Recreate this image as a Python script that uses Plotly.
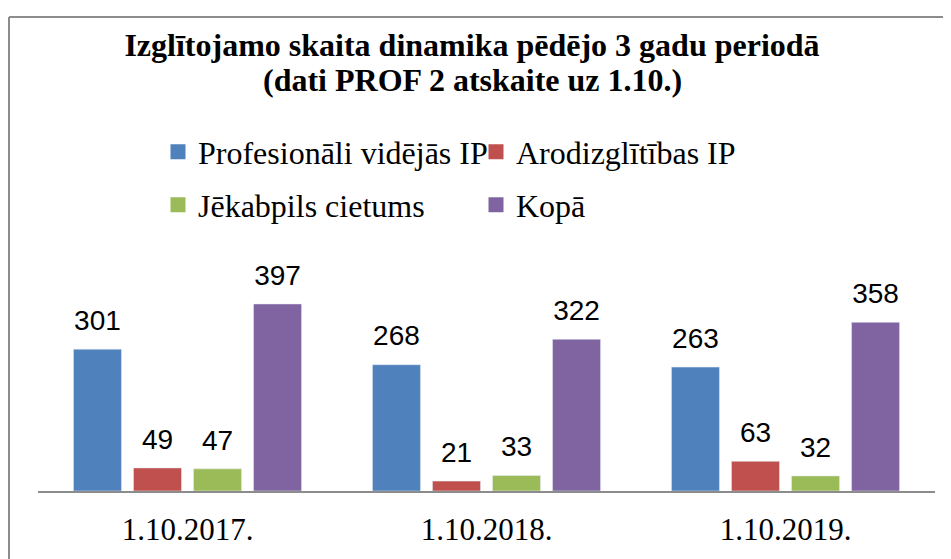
import plotly.graph_objects as go

categories = ["1.10.2017.", "1.10.2018.", "1.10.2019."]
series_names = ["Profesionāli vidējās IP", "Arodizglītības IP", "Jēkabpils cietums", "Kopā"]
prof_videjas = [301, 268, 263]
arodizglitibas = [49, 21, 63]
jekabpils = [47, 33, 32]
kopa = [397, 322, 358]
colors = ["#4F81BD", "#C0504D", "#9BBB59", "#8064A2"]
title_line1 = "Izglītojamo skaita dinamika pēdējo 3 gadu periodā"
title_line2 = "(dati PROF 2 atskaite uz 1.10.)"

# page has an 8px body margin; figure coordinates = page coordinates - 8
W, H = 943, 551
ml, mr, mt, mb = 30, 16, 271, 66
ymax = 450

fig = go.Figure()
values = [prof_videjas, arodizglitibas, jekabpils, kopa]
legends = ["legend", "legend", "legend2", "legend2"]
for name, vals, col in zip(series_names, values, colors):
    fig.add_trace(go.Bar(
        x=categories, y=vals, name=name,
        marker=dict(color=col),
        showlegend=False, offsetgroup=name,
    ))
for name, vals in zip(series_names, values):
    fig.add_trace(go.Scatter(
        x=categories, y=vals, mode="markers+text",
        marker=dict(size=18, opacity=0),
        text=[str(v) for v in vals], textposition="top center",
        textfont=dict(family="Liberation Sans", size=28, color="black"),
        cliponaxis=False, showlegend=False, hoverinfo="skip",
        offsetgroup=name,
    ))
# legend entries (square swatches)
for name, col, lg in zip(series_names, colors, legends):
    fig.add_trace(go.Scatter(
        x=[categories[0]], y=[None], mode="markers", name=name,
        marker=dict(symbol="square", size=15, color=col),
        legend=lg, offsetgroup=name, hoverinfo="skip",
    ))

pw = W - ml - mr
ph = H - mt - mb
def px_x(x):
    return (x - ml) / pw
def px_y(y):
    return (H - mb - y) / ph

border = dict(color="#8c8c8c", width=2)
fig.add_shape(type="line", xref="paper", yref="paper",
              x0=px_x(1), x1=px_x(1), y0=px_y(6.5), y1=px_y(575), line=border)
fig.add_shape(type="line", xref="paper", yref="paper",
              x0=px_x(1), x1=px_x(970), y0=px_y(6.5), y1=px_y(6.5), line=border)

fig.add_annotation(text=title_line2, xref="paper", yref="paper",
                   x=px_x(472 - 8), y=px_y(78 - 8), xanchor="center", yanchor="middle",
                   showarrow=False,
                   font=dict(family="Liberation Serif", size=32, color="black", weight="bold"))

legend_common = dict(
    orientation="h", xref="container", yref="container",
    xanchor="left", yanchor="middle",
    font=dict(family="Liberation Serif", size=32, color="black"),
    entrywidth=273, entrywidthmode="pixels",
    bgcolor="rgba(0,0,0,0)", traceorder="normal",
)

fig.update_layout(
    width=W, height=H,
    margin=dict(l=ml, r=mr, t=mt, b=mb),
    paper_bgcolor="white", plot_bgcolor="white",
    barmode="group", bargap=0.197, bargroupgap=0.2,
    scattermode="group", scattergap=0.197,
    title=dict(text=title_line1, x=(472 - 8) / W, xref="container", xanchor="center",
               y=(H - (45 - 8)) / H, yref="container", yanchor="middle",
               font=dict(family="Liberation Serif", size=32, color="black", weight="bold")),
    legend=dict(x=150 / W, y=(H - (152 - 8)) / H, **legend_common),
    legend2=dict(x=150 / W, y=(H - (205 - 8)) / H, **legend_common),
    xaxis=dict(showline=True, linecolor="#8c8c8c", linewidth=2, ticks="",
               tickfont=dict(family="Liberation Serif", size=31, color="black"),
               ticklabelstandoff=10, showgrid=False),
    yaxis=dict(range=[0, ymax], visible=False, showgrid=False),
)

fig.write_html("out.html")
